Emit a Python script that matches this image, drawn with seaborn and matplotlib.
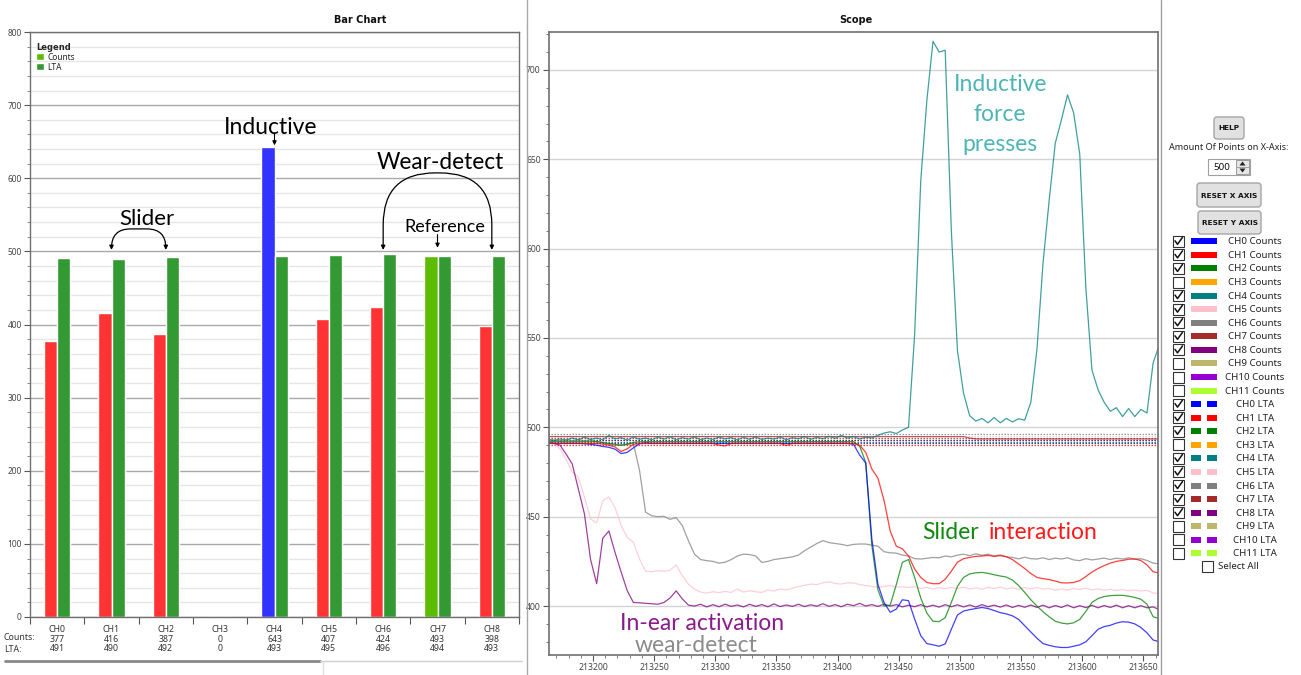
import numpy as np
import pandas as pd
import matplotlib
matplotlib.use("Agg")
import matplotlib.pyplot as plt
import seaborn as sns
from matplotlib.patches import Rectangle, FancyBboxPatch, Polygon
from matplotlib.ticker import MultipleLocator, StrMethodFormatter

# ---------------- Bar chart data ----------------
channels = ["CH0", "CH1", "CH2", "CH3", "CH4", "CH5", "CH6", "CH7", "CH8"]
counts = [377, 416, 387, 0, 643, 407, 424, 493, 398]
lta = [491, 490, 492, 0, 493, 495, 496, 494, 493]
count_bar_colors = ["#FF3333", "#FF3333", "#FF3333", "#FF3333", "#3333FF",
                    "#FF3333", "#FF3333", "#5CBC00", "#FF3333"]

# ---------------- Scope data (one sample every 5 x-units) ----------------
scope_x_start = 213163
scope_x_step = 5

ch0_counts = [491, 491, 491, 491, 491, 491, 490.8, 490.5, 490, 489.3,
              488.8, 487.8, 485.3, 486, 488.5, 490.8, 491.3, 491, 491, 491,
              491, 491, 491, 491, 491, 491, 491, 491, 491, 491,
              491, 491, 491, 491, 491, 491, 491, 491, 491, 491,
              491, 491, 491, 491, 491, 491, 491, 491, 491, 491,
              490.5, 484.5, 480, 437.5, 412, 402, 396.5, 398.3, 403.5, 403,
              392.7, 383.4, 379, 378.3, 377.5, 378.8, 387, 395, 397.2, 398,
              398.6, 399.2, 398.6, 397.5, 396.3, 395.6, 394.5, 392.5, 389, 385.5,
              382, 379, 378, 377.2, 376.8, 376.8, 377.5, 378.3, 380, 383.4,
              387, 388.5, 389.2, 390.5, 391.2, 391, 390, 388, 385, 381,
              380]
ch1_counts = [491, 491, 491, 491, 491, 491, 491, 491, 491, 490.6,
              490, 489, 486.5, 488, 490.5, 491, 491, 491, 491, 491,
              491, 491, 491, 491, 491, 491, 491, 491, 490, 489.6,
              491, 491, 491, 491, 491, 491, 491, 491, 491, 489.8,
              491, 491, 491, 491, 491, 491, 491, 491, 491, 491,
              491, 490, 486, 476.7, 471.5, 459, 442, 433.5, 432, 428,
              420.7, 416, 413.2, 412.5, 412.5, 415, 419.5, 424.5, 426.5, 427.2,
              427.8, 428, 428.3, 427.8, 428.2, 427.6, 426, 423.5, 421, 418.2,
              416, 415.3, 414.8, 414, 413, 412.9, 413.2, 414.2, 416.5, 419,
              421, 422.6, 424, 425, 425.5, 426.2, 426.3, 425.5, 423, 419.2,
              418.5]
ch2_counts = [492, 492, 492, 492, 492, 492, 492, 492, 492, 491.5,
              491, 490.5, 490, 490.5, 491.5, 492, 492, 492, 492, 492,
              492, 492, 492, 492, 492, 492, 492, 492, 492, 492,
              492, 492, 492, 492, 492, 492, 492, 492, 492, 492,
              492, 492, 492, 492, 492, 492, 492, 492, 492, 492,
              492, 489.5, 480.4, 433.8, 409, 400, 400.5, 412, 424.5, 426,
              416, 404.5, 396, 391.5, 391.3, 393.5, 402, 411, 416, 418,
              418.6, 418.8, 418.3, 417.5, 416.8, 416.2, 414.5, 411.5, 407.6, 403.5,
              400, 396.8, 394, 391.5, 390.5, 390, 390.6, 392.5, 397, 402,
              404.2, 405.3, 405.8, 406, 406, 405.5, 404.8, 403.8, 401, 394,
              393]
ch4_counts = [493, 492.5, 493.5, 492.8, 494, 493, 494.5, 493.2, 494, 493,
              495.5, 493.5, 494.2, 492.8, 494.6, 493.3, 494, 493, 494.5, 493.4,
              494.8, 493, 494.2, 493.4, 494.6, 493, 494, 493.2, 494.5, 493.5,
              494.2, 493, 494.4, 493.3, 494.6, 493.2, 494, 493.4, 494.6, 493,
              494.2, 493.6, 494.8, 493.3, 494.4, 493.6, 495, 493.8, 495.5, 494,
              494.8, 493.5, 494.5, 494, 495.5, 496.8, 497.5, 496.5, 498.5, 500,
              552, 638, 683, 716, 710, 711, 610, 543, 519, 506.5,
              503.5, 505, 502.5, 505.5, 502.5, 505, 503, 504.8, 504, 514,
              543.6, 592, 627, 659, 672, 686, 676, 653, 578, 532,
              521, 514, 509, 511, 506, 510.5, 506, 510, 508, 536,
              546]
ch5_counts = [491.5, 491, 488, 482, 475, 472, 461, 448.7, 446.5, 459,
              461, 455, 445, 438.4, 435.6, 426.3, 419.5, 419.2, 419.8, 419.5,
              420, 423, 417, 412.3, 409.5, 407.8, 407.2, 408, 407.5, 408.2,
              407.6, 409.5, 407.8, 408.6, 408, 407.6, 409, 408.4, 409.5, 409,
              410, 410.8, 411.6, 412.3, 412, 413, 413.6, 412.6, 412.3, 413,
              412.9, 412, 411.5, 411, 410.4, 411, 411.4, 410.5, 410.8, 410.4,
              410.8, 409.8, 410.5, 409.5, 410.3, 409.6, 410.4, 409.8, 410.6, 409.5,
              410.2, 409.4, 410.5, 409.8, 410.6, 409.5, 410.2, 409.4, 410.3, 409.6,
              410.4, 409.5, 409.8, 408.8, 409.6, 409, 409.8, 409.3, 410, 409,
              409.6, 408.8, 409.4, 408.6, 409.2, 408.5, 409, 408.4, 408.8, 407.3,
              407]
ch6_counts = [493.5, 493, 492.5, 493, 492.5, 493, 492.5, 493, 492, 491.5,
              490.5, 490, 490, 490.5, 491, 476, 452.5, 450.5, 450, 450.2,
              448.5, 449.5, 445, 436.5, 429, 426, 425.4, 425, 424, 424.5,
              426, 428, 429, 428.8, 428, 424.4, 425, 426, 426.5, 427,
              427.5, 428.5, 431, 433, 435, 436.6, 435.5, 435, 434.5, 433.8,
              434.5, 434.7, 434.7, 434, 433.5, 430.4, 429.8, 429.6, 428.5, 428,
              426.5, 426.3, 426.7, 427.2, 427, 428, 427.5, 428.5, 429, 428.2,
              429.2, 428.4, 429, 428, 428.6, 427.5, 427.2, 426.4, 427.3, 426.5,
              426.3, 427, 426, 426.8, 426.3, 427, 425.8, 425.4, 426.5, 425.8,
              426.3, 426.8, 426, 426.8, 426.3, 427, 426.3, 426.5, 425.5, 424,
              423.6]
ch7_counts = [494.8, 494.8, 494.8, 494.8, 494.8, 494.8, 494.8, 494.8, 494.8, 494.8,
              494.8, 494.8, 494.8, 494.8, 494.8, 494.8, 494.8, 494.8, 494.8, 494.8,
              494.8, 494.8, 494.8, 494.8, 494.8, 494.8, 494.8, 494.8, 494.8, 494.8,
              494.8, 494.8, 494.8, 494.8, 494.8, 494.8, 494.8, 494.8, 494.8, 494.8,
              494.8, 494.8, 494.8, 494.8, 494.8, 494.8, 494.8, 494.8, 494.8, 494.8,
              494.8, 494.8, 494.8, 494.8, 494.8, 494.8, 494.8, 494.8, 494.8, 494.8,
              494.8, 494.8, 494.8, 494.8, 494.8, 494.8, 494.8, 494.8, 494.8, 494,
              493.5, 493.5, 493.5, 493.5, 493.5, 493.5, 493.5, 493.5, 493.5, 493.5,
              493.5, 493.5, 493.5, 493.5, 493.5, 493.5, 493.5, 493.5, 493.5, 493.5,
              493.5, 493.5, 493.5, 493.5, 493.5, 493.5, 493.5, 493.5, 493.5, 493.5,
              493.5]
ch8_counts = [491.5, 491, 490, 485, 479.5, 465.5, 451.5, 426, 412.5, 438,
              442, 430, 419, 408.5, 402, 401.8, 401.5, 401.3, 401, 402,
              404.5, 408.5, 404, 400.5, 400, 401, 399.5, 400.8, 399.6, 401,
              399.8, 400.6, 399.5, 401, 399.8, 400.8, 399.6, 401.2, 399.7, 400.6,
              399.8, 401, 399.7, 400.7, 399.9, 401.3, 399.8, 400.8, 399.6, 401,
              400.2, 401.5, 400, 400.8, 399.8, 401, 400, 400.8, 399.5, 400.5,
              399.6, 400.8, 399.5, 400.5, 399.4, 400.8, 399.6, 400.7, 399.5, 400.6,
              399.4, 400.8, 399.6, 400.5, 399.4, 400.6, 399.2, 400.4, 399.3, 400.6,
              399.2, 400.5, 399, 400.3, 399.2, 400.6, 399, 400.2, 399.1, 400.4,
              399, 400.3, 399.2, 400.5, 399, 400.2, 399, 400.2, 399, 399.5,
              398]

scope_counts = {"CH5": ch5_counts, "CH6": ch6_counts, "CH8": ch8_counts,
                "CH7": ch7_counts, "CH2": ch2_counts, "CH4": ch4_counts,
                "CH0": ch0_counts, "CH1": ch1_counts}
scope_lta = {"CH0": 491, "CH1": 490, "CH2": 492, "CH4": 493,
             "CH5": 495, "CH6": 496, "CH7": 494, "CH8": 493}
scope_x_range = [213163, 213662]

# ---------------- UI list data ----------------
ui_channels = ["CH0", "CH1", "CH2", "CH3", "CH4", "CH5", "CH6", "CH7",
               "CH8", "CH9", "CH10", "CH11"]
ui_colors = ["#0000FF", "#FF0000", "#008000", "#FFA500", "#008080", "#FFC0CB",
             "#808080", "#A52A2A", "#800080", "#BDB76B", "#9400D3", "#ADFF2F"]
ui_checked = [True, True, True, False, True, True, True, True, True,
              False, False, False]

line_colors = dict(zip(ui_channels, ui_colors))

# ---------------- Figure ----------------
sns.set_theme(style="white")
plt.rcParams["font.family"] = ["Noto Sans", "DejaVu Sans"]
ANN_FONT = ["Lato", "DejaVu Sans"]
BOLD_FONT = ["DejaVu Sans"]

W, H = 1301, 675
fig = plt.figure(figsize=(W / 100, H / 100), dpi=100)
fig.patch.set_facecolor("white")

# ---- Bar chart ----
ax1 = fig.add_axes([30 / W, 58 / H, 489 / W, 585 / H])
df_bar = pd.DataFrame({
    "channel": channels + channels,
    "value": counts + lta,
    "kind": ["Counts"] * len(channels) + ["LTA"] * len(channels),
})
sns.barplot(data=df_bar, x="channel", y="value", hue="kind", order=channels,
            hue_order=["Counts", "LTA"],
            palette={"Counts": "#5CBC00", "LTA": "#339933"},
            width=0.48, saturation=1, ax=ax1, legend=True)
for bar, c in zip(ax1.containers[0], count_bar_colors):
    bar.set_facecolor(c)

ax1.set_xlim(-0.5, len(channels) - 0.5)
ax1.set_ylim(0, 800)
ax1.yaxis.set_major_locator(MultipleLocator(100))
ax1.yaxis.set_minor_locator(MultipleLocator(20))
ax1.grid(axis="y", which="major", color="#A9A9A9", lw=1)
ax1.grid(axis="y", which="minor", color="#E6E6E6", lw=1)
ax1.grid(axis="x", which="both", visible=False)
ax1.set_axisbelow(True)
ax1.set_xlabel("")
ax1.set_ylabel("")
ax1.set_xticks(range(len(channels)))
ax1.set_xticklabels([f"{ch}\n{c}\n{l}" for ch, c, l in zip(channels, counts, lta)],
                    linespacing=1.05)
ax1.set_xticks(np.arange(len(channels) + 1) - 0.5, minor=True)
ax1.tick_params(axis="x", which="major", length=0, pad=6, labelsize=6.3,
                labelcolor="#333333")
ax1.tick_params(axis="x", which="minor", length=5, width=0.8, color="#555555",
                direction="out", bottom=True)
ax1.tick_params(axis="y", which="major", length=4, width=0.8, color="#555555",
                labelsize=6, labelcolor="#444444", pad=2, left=True, direction="out")
ax1.tick_params(axis="y", which="minor", length=2, width=0.6, color="#777777",
                left=True, direction="out")
for s in ax1.spines.values():
    s.set_color("#707070")
    s.set_linewidth(1)

handles, labels = ax1.get_legend_handles_labels()
leg = ax1.legend(handles, labels, title="Legend", loc="upper left",
                 bbox_to_anchor=(0.012, 0.982), frameon=False, fontsize=6,
                 title_fontsize=6, handlelength=1.0, handleheight=1.0,
                 handletextpad=0.35, labelspacing=0.12, borderaxespad=0,
                 borderpad=0)
leg.get_title().set_fontweight("bold")
leg.get_title().set_family(BOLD_FONT)
leg._legend_box.align = "left"

# annotations on the bar chart
ax1.text(3.92, 669, "Inductive", ha="center", va="center", fontsize=16.5,
         family=ANN_FONT, color="black")
ax1.annotate("", xy=(4, 645), xytext=(4, 662),
             arrowprops=dict(arrowstyle="-|>", color="black", lw=0.8,
                             mutation_scale=6, shrinkA=0, shrinkB=0))
ax1.text(1.65, 544, "Slider", ha="center", va="center", fontsize=16,
         family=ANN_FONT, color="black")
ax1.annotate("", xy=(2, 502), xytext=(1, 502),
             arrowprops=dict(arrowstyle="<|-|>", color="black", lw=0.9,
                             mutation_scale=6, shrinkA=0, shrinkB=0,
                             connectionstyle="arc,angleA=90,angleB=90,armA=21,armB=21,rad=19"))
ax1.text(7.05, 621, "Wear-detect", ha="center", va="center", fontsize=16.3,
         family=ANN_FONT, color="black")
ax1.annotate("", xy=(8, 502), xytext=(6, 502),
             arrowprops=dict(arrowstyle="<|-|>", color="black", lw=0.9,
                             mutation_scale=6, shrinkA=0, shrinkB=0,
                             connectionstyle="arc,angleA=90,angleB=90,armA=77,armB=77,rad=52"))
ax1.text(7.14, 533, "Reference", ha="center", va="center", fontsize=13,
         family=ANN_FONT, color="black")
ax1.annotate("", xy=(7, 505), xytext=(7, 523),
             arrowprops=dict(arrowstyle="-|>", color="black", lw=0.8,
                             mutation_scale=6, shrinkA=0, shrinkB=0))

# ---- Scope ----
ax2 = fig.add_axes([549 / W, 20 / H, 609 / W, 623 / H])
n = len(ch0_counts)
scope_x = scope_x_start + scope_x_step * np.arange(n)
df_scope = pd.concat([
    pd.DataFrame({"x": scope_x, "value": vals, "series": name})
    for name, vals in scope_counts.items()
], ignore_index=True)
df_lta = pd.concat([
    pd.DataFrame({"x": scope_x_range, "value": [v, v], "series": name})
    for name, v in scope_lta.items()
], ignore_index=True)

sns.lineplot(data=df_lta, x="x", y="value", hue="series",
             hue_order=list(scope_lta.keys()), palette=line_colors,
             estimator=None, sort=False, legend=False, lw=0.9, alpha=0.8,
             linestyle=(0, (1.2, 1.2)), ax=ax2)
sns.lineplot(data=df_scope, x="x", y="value", hue="series",
             hue_order=list(scope_counts.keys()), palette=line_colors,
             estimator=None, sort=False, legend=False, lw=0.9, alpha=0.75,
             ax=ax2)

ax2.set_xlim(213164, 213662)
ax2.set_ylim(372.6, 721.2)
ax2.xaxis.set_major_locator(MultipleLocator(50))
ax2.xaxis.set_minor_locator(MultipleLocator(10))
ax2.yaxis.set_major_locator(MultipleLocator(50))
ax2.yaxis.set_minor_locator(MultipleLocator(10))
ax2.xaxis.set_major_formatter(StrMethodFormatter("{x:.0f}"))
ax2.yaxis.set_major_formatter(StrMethodFormatter("{x:.0f}"))
ax2.grid(axis="y", which="major", color="#D4D4D4", lw=1)
ax2.grid(axis="x", which="both", visible=False)
ax2.set_axisbelow(True)
ax2.set_xlabel("")
ax2.set_ylabel("")
ax2.tick_params(axis="both", which="major", length=4, width=0.8, color="#555555",
                labelsize=6.2, labelcolor="#444444", pad=2, direction="out",
                bottom=True, left=True)
ax2.tick_params(axis="both", which="minor", length=2.5, width=0.6,
                color="#666666", direction="out", bottom=True, left=True)
for s in ax2.spines.values():
    s.set_color("#707070")
    s.set_linewidth(1.2)

ax2.text(213533, 675, "Inductive\nforce\npresses", color="#4DB5B5", ha="center",
         va="center", fontsize=16.5, linespacing=1.55, family=ANN_FONT)
ax2.text(213469.5, 441.3, "Slider", color="#0F8A0F", ha="left", va="center",
         fontsize=16.5, family=ANN_FONT)
ax2.text(213523.4, 441.3, "interaction", color="#FF1A1A", ha="left", va="center",
         fontsize=16.5, family=ANN_FONT)
ax2.text(213222, 390, "In-ear activation", color="#8B1A8B", ha="left",
         va="center", fontsize=16.5, family=ANN_FONT)
ax2.text(213234.3, 377.7, "wear-detect", color="#8C8C8C", ha="left",
         va="center", fontsize=16.5, family=ANN_FONT)

# ---- UI overlay (pixel coordinates) ----
ui = fig.add_axes([0, 0, 1, 1])
ui.set_xlim(0, W)
ui.set_ylim(H, 0)
ui.axis("off")
ui.patch.set_alpha(0)

ui.text(360, 20, "Bar Chart", ha="center", va="center", fontsize=7,
        fontweight="bold", family=BOLD_FONT, color="#111111")
ui.text(856, 20, "Scope", ha="center", va="center", fontsize=7,
        fontweight="bold", family=BOLD_FONT, color="#111111")
ui.text(4, 638, "Counts:", ha="left", va="center", fontsize=6.3, color="#333333")
ui.text(4, 649, "LTA:", ha="left", va="center", fontsize=6.3, color="#333333")

# separators / scrollbar
ui.plot([527, 527], [0, H], color="#A8A8A8", lw=1)
ui.plot([1161, 1161], [0, H], color="#A0A0A0", lw=1)
ui.plot([5, 320], [660.5, 660.5], color="#888888", lw=2)
ui.plot([320, 522], [660.5, 660.5], color="#D0D0D0", lw=1)
ui.plot([323, 323], [661, H], color="#E0E0E0", lw=1)


def button(x0, y0, x1, y1, label, fs=5.3):
    ui.add_patch(FancyBboxPatch((x0, y0), x1 - x0, y1 - y0,
                                boxstyle="round,pad=0,rounding_size=3",
                                fc="#E1E1E1", ec="#A5A5A5", lw=1))
    ui.text((x0 + x1) / 2, (y0 + y1) / 2 + 0.5, label, ha="center", va="center",
            fontsize=fs, fontweight="bold", family=BOLD_FONT, color="#111111")


button(1214, 117, 1244, 139, "HELP")
ui.text(1229, 148, "Amount Of Points on X-Axis:", ha="center", va="center",
        fontsize=6.5, color="#222222")
ui.add_patch(Rectangle((1208, 159), 42, 16, fc="white", ec="#A0A0A0", lw=0.8))
ui.text(1222, 167.5, "500", ha="center", va="center", fontsize=7, color="#111111")
ui.add_patch(Rectangle((1236, 160), 13, 14, fc="#E6E6E6", ec="#9A9A9A", lw=0.7))
ui.plot([1236, 1249], [167, 167], color="#9A9A9A", lw=0.6)
ui.add_patch(Polygon([[1239.5, 165.5], [1245.5, 165.5], [1242.5, 161.5]],
                     closed=True, fc="#222222", ec="none"))
ui.add_patch(Polygon([[1239.5, 168.5], [1245.5, 168.5], [1242.5, 172.5]],
                     closed=True, fc="#222222", ec="none"))
button(1197, 183, 1261, 207, "RESET X AXIS")
button(1198, 211, 1261, 234, "RESET Y AXIS")


def checkbox(x, y, checked):
    ui.add_patch(Rectangle((x, y - 5.5), 11, 11, fc="white", ec="#333333", lw=0.8))
    if checked:
        ui.plot([x + 2, x + 4.5, x + 9.5], [y - 0.5, y + 3, y - 4],
                color="#111111", lw=1.1, solid_capstyle="round")


row_y0, row_dy = 241.3, 13.57
rows = ([(f"{c} Counts", col, chk, "counts")
         for c, col, chk in zip(ui_channels, ui_colors, ui_checked)] +
        [(f"{c} LTA", col, chk, "lta")
         for c, col, chk in zip(ui_channels, ui_colors, ui_checked)])
for i, (label, col, chk, kind) in enumerate(rows):
    y = row_y0 + row_dy * i
    checkbox(1173, y, chk)
    if kind == "counts":
        ui.add_patch(Rectangle((1191, y - 3), 26, 6, fc=col, ec="none"))
    else:
        ui.add_patch(Rectangle((1191, y - 3), 10, 6, fc=col, ec="none"))
        ui.add_patch(Rectangle((1207, y - 3), 10, 6, fc=col, ec="none"))
    ui.text(1255, y + 0.5, label, ha="center", va="center", fontsize=7,
            color="#222222")

checkbox(1202, 566, False)
ui.text(1218, 566.5, "Select All", ha="left", va="center", fontsize=7,
        color="#222222")

fig.savefig("out.png", dpi=100, facecolor="white")
